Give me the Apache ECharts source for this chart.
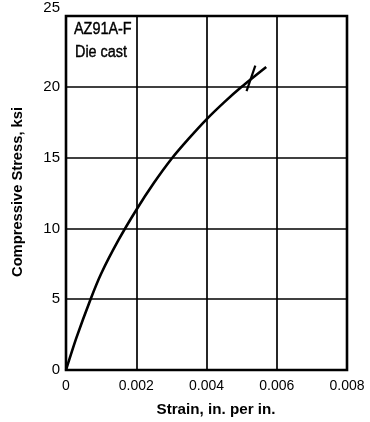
<!DOCTYPE html>
<html><head><meta charset="utf-8">
<script src="https://cdn.jsdelivr.net/npm/echarts@6/dist/echarts.min.js"></script>
<style>html,body{margin:0;padding:0;background:#fff}#c{width:370px;height:422px}</style>
</head><body><div id="c"></div>
<script>
var strain = [0, 0.0003, 0.0007, 0.001, 0.0015, 0.002, 0.0025, 0.003, 0.0035, 0.004, 0.0045, 0.005, 0.0057];
var stress = [0, 2.3, 5.0, 6.8, 9.2, 11.3, 13.2, 14.9, 16.35, 17.7, 18.9, 20.0, 21.4];
var markStrain = [0.00539, 0.00514];
var markStress = [21.5, 19.7];
var xTicks = ['0', '0.002', '0.004', '0.006', '0.008'];
var yTicks = ['0', '5', '10', '15', '20', '25'];
var fnt = '"Liberation Sans", Arial, sans-serif';
function pairs(a, b){ return a.map(function(v,i){ return [v, b[i]]; }); }
var chart = echarts.init(document.getElementById('c'));
chart.setOption({
  animation: false,
  grid: {left: 66, right: 23, top: 16, bottom: 52, show: true, borderColor: '#000', borderWidth: 2.6},
  xAxis: {type: 'value', min: 0, max: 0.008, interval: 0.002,
    axisLine: {show: false}, axisTick: {show: false},
    axisLabel: {margin: 9, color: '#000', fontFamily: fnt, fontSize: 14,
      formatter: function(v){ return xTicks[Math.round(v/0.002)]; }},
    splitLine: {show: true, lineStyle: {color: '#000', width: 1.7}}},
  yAxis: {type: 'value', min: 0, max: 25, interval: 5,
    axisLine: {show: false}, axisTick: {show: false},
    axisLabel: {margin: 6, color: '#000', fontFamily: fnt, fontSize: 15,
      formatter: function(v){ var i = Math.round(v/5); return i === 5 ? '{t|' + yTicks[i] + '}' : yTicks[i]; },
      rich: {t: {fontFamily: fnt, fontSize: 15, color: '#000', padding: [0, 0, 16, 0]}}},
    splitLine: {show: true, lineStyle: {color: '#000', width: 1.7}}},
  graphic: [
    {type: 'text', x: 74, y: 22, scaleX: 0.9, style: {text: 'AZ91A-F', font: '16px ' + fnt, fill: '#000', stroke: '#000', lineWidth: 0.4}},
    {type: 'text', x: 75, y: 45, scaleX: 0.9, style: {text: 'Die cast', font: '16px ' + fnt, fill: '#000', stroke: '#000', lineWidth: 0.4}},
    {type: 'text', x: 216, y: 410, scaleX: 0.98, style: {text: 'Strain, in. per in.', font: 'bold 15.5px ' + fnt, fill: '#000', align: 'center', verticalAlign: 'middle'}},
    {type: 'text', x: 18, y: 192, rotation: Math.PI/2, scaleX: 0.98, style: {text: 'Compressive Stress, ksi', font: 'bold 15px ' + fnt, fill: '#000', align: 'center', verticalAlign: 'middle'}}
  ],
  series: [
    {type: 'line', data: pairs(strain, stress), smooth: 0.25, showSymbol: false,
      lineStyle: {color: '#000', width: 2.6}},
    {type: 'line', data: pairs(markStrain, markStress), showSymbol: false,
      lineStyle: {color: '#000', width: 2.2}}
  ]
});
</script></body></html>
